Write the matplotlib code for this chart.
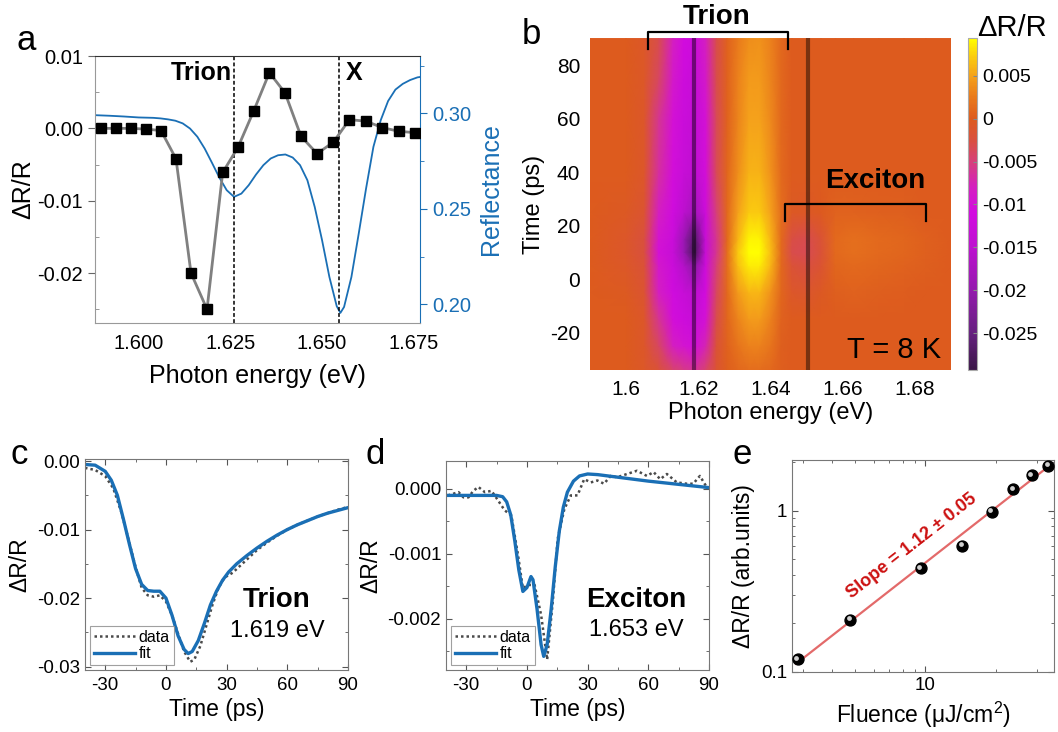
import numpy as np
import matplotlib
matplotlib.use("Agg")
import matplotlib.pyplot as plt
import matplotlib.transforms as mtransforms
from matplotlib.colors import LinearSegmentedColormap, Normalize
from matplotlib.ticker import FixedLocator, NullFormatter, MultipleLocator

plt.rcParams['font.family'] = ['Liberation Sans', 'DejaVu Sans']
plt.rcParams['axes.unicode_minus'] = False
plt.rcParams['mathtext.fontset'] = 'custom'
plt.rcParams['mathtext.rm'] = 'Liberation Sans'
plt.rcParams['mathtext.it'] = 'Liberation Sans:italic'

# ---------------- panel a data ----------------
a_energy = [1.58964, 1.59373, 1.59782, 1.60191, 1.60609, 1.61018, 1.61427, 1.61864,
            1.62291, 1.62709, 1.63136, 1.63564, 1.63991, 1.64427, 1.64864, 1.65309,
            1.65745, 1.66191, 1.66645, 1.67091, 1.67536]
a_dRR = [0.0000, 0.0000, 0.0000, -0.0001, -0.0003, -0.0042, -0.0200, -0.0250,
         -0.0061, -0.0026, 0.0024, 0.0077, 0.0049, -0.0011, -0.0035, -0.0019,
         0.0012, 0.0010, 0.0001, -0.0004, -0.0006]
refl_energy = [1.588, 1.592, 1.596, 1.600, 1.604, 1.606, 1.608, 1.610, 1.612, 1.614,
               1.616, 1.618, 1.620, 1.622, 1.624, 1.626, 1.628, 1.630, 1.632, 1.634,
               1.636, 1.638, 1.640, 1.642, 1.644, 1.646, 1.648, 1.650, 1.652, 1.654,
               1.655, 1.656, 1.658, 1.660, 1.662, 1.664, 1.666, 1.668, 1.670, 1.672,
               1.674, 1.676, 1.677]
refl_value = [0.2991, 0.2988, 0.2984, 0.2979, 0.2977, 0.2974, 0.2969, 0.2962, 0.2948, 0.2921,
              0.2878, 0.2816, 0.2741, 0.2664, 0.2598, 0.2563, 0.2580, 0.2624, 0.2680, 0.2729,
              0.2764, 0.2781, 0.2785, 0.2769, 0.2729, 0.2650, 0.2510, 0.2336, 0.2143, 0.1990,
              0.1955, 0.1986, 0.2143, 0.2371, 0.2607, 0.2825, 0.2965, 0.3065, 0.3125, 0.3155,
              0.3175, 0.3189, 0.3192]
a_marker_lines = [1.6260, 1.6545]

# ---------------- panel b data (map, values in units of 1e-3) ----------------
map_energy = [1.590, 1.600, 1.605, 1.609, 1.613, 1.616, 1.619, 1.622, 1.625, 1.628,
              1.631, 1.634, 1.637, 1.640, 1.643, 1.646, 1.650, 1.654, 1.658, 1.663,
              1.670, 1.677, 1.683, 1.690]
map_time = [-34, -25, -15, -5, 5, 10, 15, 25, 40, 60, 75, 90]
map_dRR_1e3 = [
    [0, 0, -0.8, -2.0, -4.5, -5.5, -6.5, -4.5, -1.5, 0.3, 1.0, 1.5, 1.5, 1.0, 0.2, 0, 0, 0, 0, 0, 0, 0, 0, 0],
    [0, 0, -1.0, -4.0, -8.0, -9.5, -10.5, -7.5, -2.0, 0.5, 2.0, 3.0, 3.0, 2.0, 0.3, 0, 0, 0, 0, 0, 0, 0, 0, 0],
    [0, 0, -1.0, -6.0, -10.5, -12.0, -13.0, -10.0, -3.0, 0.8, 3.2, 4.5, 4.5, 3.0, 0.5, 0, 0, 0, 0, 0, 0, 0, 0, 0],
    [0, -0.3, -1.5, -8.0, -11.5, -13.0, -15.0, -11.0, -4.0, 1.0, 4.5, 6.0, 6.0, 4.0, 0.8, -1.0, -1.2, -0.5, 0.3, 0.5, 0.3, 0.1, 0, 0],
    [0, -0.8, -2.0, -9.0, -12.5, -16.0, -21.0, -12.0, -5.0, 1.5, 6.5, 8.5, 8.5, 6.0, 1.0, -2.0, -2.6, -1.5, 0.9, 1.2, 0.9, 0.6, 0.3, 0],
    [0, -1.0, -2.5, -10.0, -13.0, -19.0, -28.0, -13.0, -6.0, 1.5, 7.0, 9.3, 9.3, 6.5, 1.2, -3.0, -3.4, -2.0, 1.2, 1.6, 1.1, 0.8, 0.4, 0],
    [0, -1.0, -2.5, -9.5, -12.5, -19.0, -27.0, -13.0, -6.0, 1.0, 6.0, 8.8, 8.8, 6.0, 1.2, -2.8, -3.2, -1.8, 1.2, 1.6, 1.1, 0.8, 0.4, 0],
    [0, -0.5, -1.5, -8.0, -11.5, -15.0, -18.0, -12.0, -5.0, 1.0, 5.0, 7.0, 7.0, 5.0, 1.5, -0.5, -0.6, -0.2, 0.5, 0.5, 0.4, 0.2, 0, 0],
    [0, 0, -1.0, -6.5, -10.5, -13.0, -14.5, -10.5, -3.5, 0.8, 3.8, 5.8, 5.8, 4.0, 1.2, 0, 0, 0, 0, 0, 0, 0, 0, 0],
    [0, 0, -1.0, -6.0, -10.0, -12.5, -13.5, -10.0, -3.5, 0.5, 3.2, 5.0, 5.0, 3.5, 1.0, 0, 0, 0, 0, 0, 0, 0, 0, 0],
    [0, 0, -0.8, -4.0, -9.0, -12.0, -13.0, -9.0, -3.0, 0.5, 3.0, 4.5, 4.5, 3.2, 1.0, 0, 0, 0, 0, 0, 0, 0, 0, 0],
    [0, 0, -0.8, -3.0, -8.0, -11.0, -12.0, -8.0, -3.0, 0.5, 2.5, 3.8, 4.0, 3.0, 1.0, 0, 0, 0, 0, 0, 0, 0, 0, 0],
]
map_cut_lines = [1.6187, 1.6505]
cbar_ticks = [0.005, 0, -0.005, -0.01, -0.015, -0.02, -0.025]
cbar_ticklabels = ['0.005', '0', '-0.005', '-0.01', '-0.015', '-0.02', '-0.025']

# ---------------- panel c data ----------------
c_data_t = [-40, -35, -30, -26, -22, -18, -15, -12, -9, -6, -3, 0, 3, 6, 9, 12, 14, 17, 20, 23,
            26, 29, 33, 37, 41, 45, 50, 55, 60, 65, 70, 75, 80, 85, 90]
c_data_v = [-0.0010, -0.0013, -0.0022, -0.0040, -0.0075, -0.0120, -0.0155, -0.0185, -0.0196,
            -0.0198, -0.0196, -0.0205, -0.0225, -0.0252, -0.0278, -0.0293, -0.0290, -0.0270,
            -0.0240, -0.0210, -0.0185, -0.0170, -0.0163, -0.0152, -0.0141, -0.0130, -0.0119,
            -0.0109, -0.0100, -0.0093, -0.0087, -0.0081, -0.0076, -0.0071, -0.0067]
c_fit_t = [-40, -35, -30, -27, -24, -21, -18, -15, -12, -9, -6, -3, 0, 3, 6, 9, 11, 13, 16, 19,
           22, 25, 28, 31, 35, 40, 45, 50, 55, 60, 65, 70, 75, 80, 85, 90]
c_fit_v = [-0.0005, -0.0006, -0.0015, -0.0028, -0.0050, -0.0085, -0.0122, -0.0157, -0.0180,
           -0.0189, -0.0190, -0.0190, -0.0200, -0.0225, -0.0255, -0.0275, -0.0281, -0.0278,
           -0.0262, -0.0237, -0.0210, -0.0190, -0.0174, -0.0162, -0.0150, -0.0138, -0.0127,
           -0.0117, -0.0108, -0.0100, -0.0093, -0.0087, -0.0081, -0.0076, -0.0072, -0.0068]

# ---------------- panel d data ----------------
d_data_t = [-39.1, -33.8, -31.4, -28.9, -26.5, -24.0, -20.8, -17.5, -14.2, -11.0, -7.7, -4.4,
            -2.0, 0.5, 3.8, 7.0, 10.0, 12.8, 15.2, 18.5, 21.7, 25.0, 28.3, 31.6, 34.8, 38.1,
            41.4, 44.6, 49.5, 54.4, 59.3, 62.6, 65.9, 69.2, 74.1, 79.0, 82.2, 85.5, 88.8]
d_data_v = [-0.00010, -0.00005, -0.00013, -0.00013, -0.00003, 0.00003, -0.00005, -0.00003,
            -0.00018, -0.00033, -0.00041, -0.00102, -0.00153, -0.00148, -0.00148, -0.00194,
            -0.00263, -0.00173, -0.00077, -0.00031, -0.00010, -0.00010, 0.00015, 0.00010,
            0.00013, 0.00008, 0.00020, 0.00018, 0.00023, 0.00028, 0.00020, 0.00026, 0.00015,
            0.00023, 0.00010, 0.00008, 0.00008, 0.00020, 0.00003]
d_fit_t = [-40, -15, -12, -10, -8, -6, -4, -2, 0, 2, 3, 5, 7, 8.3, 10, 12, 14, 16, 18, 20,
           23, 26, 30, 35, 45, 60, 75, 90]
d_fit_v = [-0.00010, -0.00010, -0.00012, -0.00020, -0.00040, -0.00080, -0.00125, -0.00158,
           -0.00152, -0.00135, -0.00140, -0.00185, -0.00240, -0.00258, -0.00240, -0.00185,
           -0.00120, -0.00065, -0.00028, -0.00005, 0.00012, 0.00020, 0.00023, 0.00022,
           0.00018, 0.00012, 0.00007, 0.00002]

# ---------------- panel e data ----------------
e_fluence = [2.85, 4.78, 9.55, 14.35, 19.2, 23.7, 28.4, 33.5]
e_signal = [0.120, 0.211, 0.438, 0.607, 0.986, 1.355, 1.662, 1.897]

BLUE = '#1a6fb5'
FIG_W, FIG_H = 1058, 732

def box(l, r, t, b):
    return [l / FIG_W, 1 - b / FIG_H, (r - l) / FIG_W, (b - t) / FIG_H]

fig = plt.figure(figsize=(10.58, 7.32), dpi=100)

# ======================= panel a =======================
axa = fig.add_axes(box(95, 420, 56, 323))
axa.plot(a_energy, a_dRR, color='#808080', lw=2, zorder=2)
axa.plot(a_energy, a_dRR, ls='none', marker='s', ms=7, color='black', zorder=3)
for xv in a_marker_lines:
    axa.axvline(xv, color='black', ls=(0, (2.5, 1.5)), lw=1.1, zorder=1)
axa.set_xlim(1.5881, 1.6767)
axa.set_ylim(-0.0269, 0.0100)
axa.set_xticks([1.600, 1.625, 1.650, 1.675])
axa.set_xticklabels(['1.600', '1.625', '1.650', '1.675'])
axa.set_yticks([0.01, 0.0, -0.01, -0.02])
axa.set_yticklabels(['0.01', '0.00', '-0.01', '-0.02'])
axa.yaxis.set_minor_locator(MultipleLocator(0.005))
axa.tick_params(axis='both', labelsize=14.5, direction='out', length=5, color='#666666')
axa.tick_params(axis='y', which='minor', direction='in', length=3, color='#888888')
axa.tick_params(axis='x', length=0, pad=8)
for s in ['left', 'bottom']:
    axa.spines[s].set_color('#999999')
axa.spines['top'].set_color('#333333')
axa.spines['right'].set_visible(False)
axa.set_xlabel('Photon energy (eV)', fontsize=18, labelpad=8)
axa.set_ylabel('ΔR/R', fontsize=18, labelpad=2)
axa.text(1.6255, 0.0076, 'Trion', fontsize=18, fontweight='bold', ha='right', va='center')
axa.text(1.6565, 0.0076, 'X', fontsize=18, fontweight='bold', ha='left', va='center')

axr = axa.twinx()
axr.plot(refl_energy, refl_value, color=BLUE, lw=1.3, zorder=1)
axr.set_ylim(0.1902, 0.3301)
axr.set_yticks([0.20, 0.25, 0.30])
axr.set_yticklabels(['0.20', '0.25', '0.30'])
axr.yaxis.set_minor_locator(MultipleLocator(0.025))
axr.tick_params(axis='y', labelsize=14.5, colors=BLUE, direction='out', length=5)
axr.tick_params(axis='y', which='minor', direction='out', length=3, colors=BLUE)
axr.spines['right'].set_color(BLUE)
axr.spines['left'].set_visible(False)
axr.spines['top'].set_visible(False)
axr.spines['bottom'].set_visible(False)
axr.set_ylabel('Reflectance', fontsize=18, color=BLUE, labelpad=6)
axa.set_zorder(axr.get_zorder() + 1)
axa.patch.set_visible(False)

# ======================= panel b =======================
vmin, vmax = -0.0293, 0.0094
stops = [(-0.0293, '#3b1748'), (-0.025, '#66207f'), (-0.020, '#9419ad'), (-0.015, '#bd10cf'),
         (-0.011, '#d20be0'), (-0.008, '#d41fc0'), (-0.005, '#d6407a'), (-0.0025, '#d9503f'),
         (0.0, '#dd5b1e'), (0.0025, '#e9791c'), (0.005, '#f5a11b'), (0.0075, '#fbd00e'),
         (0.0094, '#ffff00')]
cmap = LinearSegmentedColormap.from_list('trmap', [((v - vmin) / (vmax - vmin), c) for v, c in stops])
norm = Normalize(vmin=vmin, vmax=vmax)

axb = fig.add_axes(box(590, 951, 38, 370))
Z = np.array(map_dRR_1e3) * 1e-3
pm = axb.pcolormesh(map_energy, map_time, Z, cmap=cmap, norm=norm, shading='gouraud',
                    rasterized=True)
for xv in map_cut_lines:
    axb.axvline(xv, color='black', alpha=0.45, lw=3)
axb.set_xlim(1.59, 1.69)
axb.set_ylim(-34, 90.2)
axb.set_xticks([1.60, 1.62, 1.64, 1.66, 1.68])
axb.set_xticklabels(['1.6', '1.62', '1.64', '1.66', '1.68'])
axb.set_yticks([-20, 0, 20, 40, 60, 80])
axb.set_yticklabels(['-20', '0', '20', '40', '60', '80'])
axb.tick_params(axis='both', labelsize=15, length=0, pad=7)
for s in axb.spines.values():
    s.set_visible(False)
axb.set_xlabel('Photon energy (eV)', fontsize=17, labelpad=2)
axb.set_ylabel('Time (ps)', fontsize=17, labelpad=4)
# brackets
axb.plot([1.6060, 1.6060, 1.6448, 1.6448], [85.9, 92.4, 92.4, 85.9], color='black', lw=1.6,
         clip_on=False)
axb.text(1.6251, 98.2, 'Trion', fontsize=20, fontweight='bold', ha='center', va='center')
axb.plot([1.6441, 1.6441, 1.6830, 1.6830], [21.6, 28.1, 28.1, 21.6], color='black', lw=1.6)
axb.text(1.6689, 36.6, 'Exciton', fontsize=20, fontweight='bold', ha='center', va='center')
axb.text(1.6872, -26.5, 'T = 8 K', fontsize=21, ha='right', va='center')

axcb = fig.add_axes(box(968, 977, 38, 370))
cb = fig.colorbar(pm, cax=axcb)
cb.set_ticks(cbar_ticks)
cb.set_ticklabels(cbar_ticklabels)
cb.ax.tick_params(labelsize=14, length=3, direction='in', color='#888888', pad=4)
cb.outline.set_edgecolor('#aaaaaa')
cb.outline.set_linewidth(0.8)
fig.text(977 / FIG_W, 1 - 28 / FIG_H, 'ΔR/R', fontsize=21, ha='left', va='center')

# ======================= panel c =======================
def style_trace_axis(ax):
    ax.set_xlim(-40, 90)
    ax.set_xticks([-30, 0, 30, 60, 90])
    ax.set_xticklabels(['-30', '0', '30', '60', '90'])
    ax.xaxis.set_minor_locator(MultipleLocator(15))
    ax.tick_params(axis='both', which='both', direction='in', top=True, right=True,
                   color='#555555')
    ax.tick_params(axis='both', which='major', labelsize=13.5, length=4)
    ax.tick_params(axis='both', which='minor', length=2.5)
    ax.tick_params(axis='x', pad=5)
    for s in ax.spines.values():
        s.set_color('#777777')
    ax.set_xlabel('Time (ps)', fontsize=16.5, labelpad=3)
    ax.set_ylabel('ΔR/R', fontsize=16.5, labelpad=4)

def add_legend(ax):
    leg = ax.legend(loc='lower left', fontsize=11.5, frameon=True, fancybox=False,
                    handlelength=2.6, handletextpad=0.2, borderpad=0.25, labelspacing=0.1,
                    borderaxespad=0.3)
    leg.get_frame().set_edgecolor('#888888')
    leg.get_frame().set_linewidth(0.8)

axc = fig.add_axes(box(85, 348, 459, 670))
axc.plot(c_data_t, c_data_v, color='#4a4a4a', lw=1.8, ls=(0, (1, 1.2)), label='data')
axc.plot(c_fit_t, c_fit_v, color=BLUE, lw=2.4, label='fit')
style_trace_axis(axc)
axc.set_ylim(-0.0305, 0.0003)
axc.set_yticks([0.0, -0.01, -0.02, -0.03])
axc.set_yticklabels(['0.00', '-0.01', '-0.02', '-0.03'])
axc.yaxis.set_minor_locator(MultipleLocator(0.005))
add_legend(axc)
axc.text(0.73, 0.33, 'Trion', transform=axc.transAxes, fontsize=20, fontweight='bold',
         ha='center', va='center')
axc.text(0.73, 0.185, '1.619 eV', transform=axc.transAxes, fontsize=17, ha='center', va='center')

# ======================= panel d =======================
axd = fig.add_axes(box(446, 709, 461, 670))
axd.plot(d_data_t, d_data_v, color='#4a4a4a', lw=1.8, ls=(0, (1, 1.2)), label='data')
axd.plot(d_fit_t, d_fit_v, color=BLUE, lw=2.4, label='fit')
style_trace_axis(axd)
axd.set_ylim(-0.00279, 0.00043)
axd.set_yticks([0.0, -0.001, -0.002])
axd.set_yticklabels(['0.000', '-0.001', '-0.002'])
axd.yaxis.set_minor_locator(MultipleLocator(0.0005))
add_legend(axd)
axd.text(0.725, 0.335, 'Exciton', transform=axd.transAxes, fontsize=20, fontweight='bold',
         ha='center', va='center')
axd.text(0.725, 0.19, '1.653 eV', transform=axd.transAxes, fontsize=17, ha='center', va='center')

# ======================= panel e =======================
axe = fig.add_axes(box(792, 1054, 460, 672))
axe.set_xscale('log')
axe.set_yscale('log')
axe.set_xlim(2.69, 35.4)
axe.set_ylim(0.1, 2.06)
coef = np.polyfit(np.log10(e_fluence), np.log10(e_signal), 1)
fit_x = np.array([2.8, 34.5])
fit_y = 10 ** np.polyval(coef, np.log10(fit_x))
axe.plot(fit_x, fit_y, color='#e36a6a', lw=1.6, zorder=2)
axe.scatter(e_fluence, e_signal, s=62, color='black', zorder=3)
hl = mtransforms.offset_copy(axe.transData, fig=fig, x=-1.5, y=1.5, units='dots')
axe.scatter(e_fluence, e_signal, s=12, color='#d0d0d0', zorder=4, transform=hl, linewidths=0)
axe.set_xticks([10])
axe.set_xticklabels(['10'])
axe.xaxis.set_minor_locator(FixedLocator([3, 4, 5, 6, 7, 8, 9, 20, 30]))
axe.xaxis.set_minor_formatter(NullFormatter())
axe.set_yticks([0.1, 1])
axe.set_yticklabels(['0.1', '1'])
axe.yaxis.set_minor_locator(FixedLocator([0.2, 0.3, 0.4, 0.5, 0.6, 0.7, 0.8, 0.9, 2]))
axe.yaxis.set_minor_formatter(NullFormatter())
axe.tick_params(axis='both', which='both', direction='in', top=True, right=True, color='#555555')
axe.tick_params(axis='both', which='major', labelsize=13.5, length=4)
axe.tick_params(axis='both', which='minor', length=2.5)
for s in axe.spines.values():
    s.set_color('#777777')
axe.set_xlabel('Fluence (μJ/cm$^2$)', fontsize=16.5, labelpad=4)
axe.set_ylabel('ΔR/R (arb.units)', fontsize=16.5, labelpad=4)
p1 = axe.transData.transform((fit_x[0], fit_y[0]))
p2 = axe.transData.transform((fit_x[1], fit_y[1]))
ang = np.degrees(np.arctan2(p2[1] - p1[1], p2[0] - p1[0]))
axe.text(8.71, 0.60, 'Slope = 1.12 ± 0.05', fontsize=13, fontweight='bold', color='#cc1111',
         rotation=ang, rotation_mode='anchor', ha='center', va='center')

# ======================= panel letters =======================
for lab, x, y in [('a', 16, 40), ('b', 522, 35), ('c', 11, 455), ('d', 366, 455), ('e', 733, 455)]:
    fig.text(x / FIG_W, 1 - y / FIG_H, lab, fontsize=25, ha='left', va='center')

fig.savefig('out.png', dpi=100)
